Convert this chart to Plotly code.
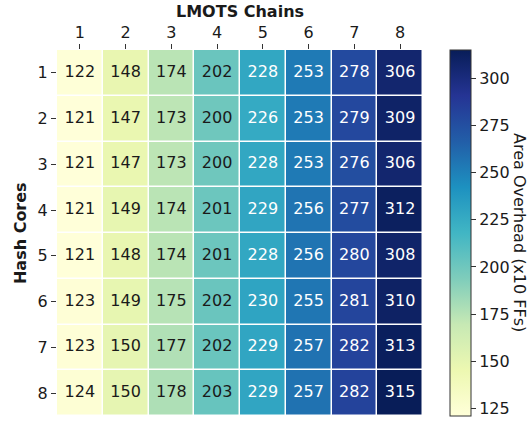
import plotly.graph_objects as go

chains = [1, 2, 3, 4, 5, 6, 7, 8]
cores = [1, 2, 3, 4, 5, 6, 7, 8]
values = [
    [122, 148, 174, 202, 228, 253, 278, 306],
    [121, 147, 173, 200, 226, 253, 279, 309],
    [121, 147, 173, 200, 228, 253, 276, 306],
    [121, 149, 174, 201, 229, 256, 277, 312],
    [121, 148, 174, 201, 228, 256, 280, 308],
    [123, 149, 175, 202, 230, 255, 281, 310],
    [123, 150, 177, 202, 229, 257, 282, 313],
    [124, 150, 178, 203, 229, 257, 282, 315],
]
cbar_ticks = [125, 150, 175, 200, 225, 250, 275, 300]

ylgnbu = ["#ffffd9", "#edf8b1", "#c7e9b4", "#7fcdbb", "#41b6c4",
          "#1d91c0", "#225ea8", "#253494", "#081d58"]
cscale = [[i / 8, c] for i, c in enumerate(ylgnbu)]

font = "DejaVu Sans"
fs = 16
ink = "#1a1a1a"
zmin = min(min(r) for r in values)
zmax = max(max(r) for r in values)

fig = go.Figure()
fig.add_trace(go.Heatmap(
    x=chains, y=cores, z=values, colorscale=cscale, zmin=zmin, zmax=zmax,
    xgap=1.5, ygap=1.5, hoverinfo="skip",
    colorbar=dict(
        x=1.074, xanchor="left", xref="paper", y=0.5, yanchor="middle",
        len=1.0, lenmode="fraction", thickness=21, xpad=0, ypad=0,
        outlinewidth=1, outlinecolor="#333",
        tickvals=cbar_ticks, ticks="outside", ticklen=5, tickcolor="#333",
        tickfont=dict(family=font, size=fs, color=ink),
    ),
))

# cell labels
xs, ys, ts, cs = [], [], [], []
for i, row in enumerate(values):
    for j, v in enumerate(row):
        xs.append(chains[j]); ys.append(cores[i]); ts.append(str(v))
        cs.append("white" if v > 215 else ink)
fig.add_trace(go.Scatter(
    x=xs, y=ys, text=ts, mode="text", hoverinfo="skip", showlegend=False,
    textfont=dict(family=font, size=fs, color=cs),
))

fig.update_layout(
    width=532, height=422,
    margin=dict(l=57, r=109, t=50, b=6, autoexpand=False),
    paper_bgcolor="white", plot_bgcolor="white",
    font=dict(family=font, color=ink),
    showlegend=False,
    xaxis=dict(side="top", range=[0.5, 8.5], tickvals=chains, ticks="outside",
               ticklen=5, tickcolor="#333", showgrid=False, zeroline=False,
               automargin=False,
               tickfont=dict(family=font, size=fs, color=ink)),
    yaxis=dict(range=[8.5, 0.5], tickvals=cores, ticks="outside",
               ticklen=5, tickcolor="#333", showgrid=False, zeroline=False,
               automargin=False,
               tickfont=dict(family=font, size=fs, color=ink)),
    annotations=[
        dict(text="<b>LMOTS Chains</b>", xref="paper", yref="paper",
             x=0.5, y=1.104, xanchor="center", yanchor="middle", showarrow=False,
             font=dict(family=font, size=fs, color=ink)),
        dict(text="<b>Hash Cores</b>", textangle=-90, xref="paper", yref="paper",
             x=-0.101, y=0.5, xanchor="center", yanchor="middle", showarrow=False,
             font=dict(family=font, size=fs, color=ink)),
        dict(text="Area Overhead (x10 FFs)", textangle=90, xref="paper", yref="paper",
             x=1.265, y=0.5, xanchor="center", yanchor="middle", showarrow=False,
             font=dict(family=font, size=fs, color=ink)),
    ],
)

fig.write_html("out.html", config={"displayModeBar": False},
               post_script="document.body.style.margin='0px';")
